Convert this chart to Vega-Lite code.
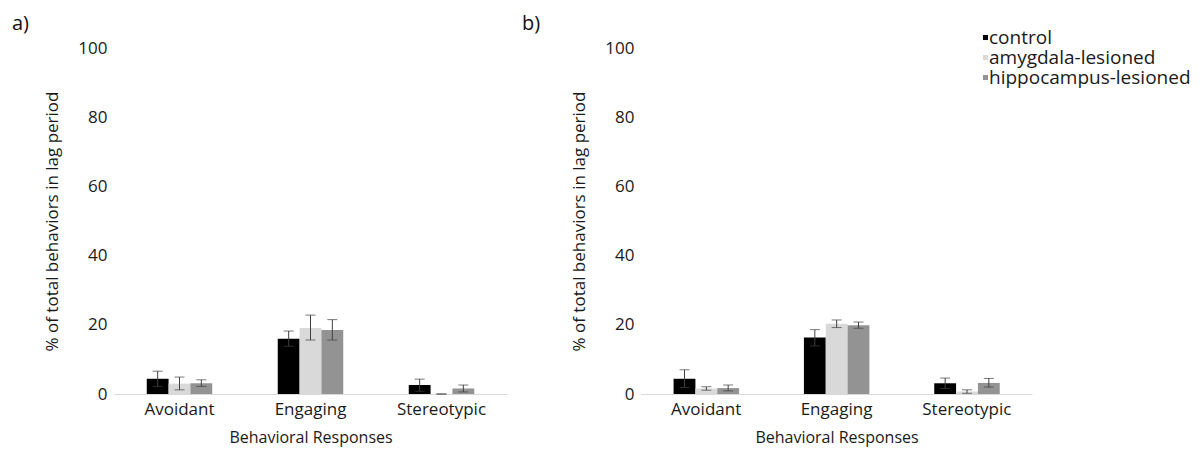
{
  "$schema": "https://vega.github.io/schema/vega-lite/v6.json",
  "background": "white",
  "padding": {"left": 12, "top": 14, "right": 0, "bottom": 10},
  "config": {
    "view": {"stroke": null},
    "font": "Open Sans",
    "concat": {"spacing": 15}
  },
  "datasets": {
    "stats": [
      {"panel": "a", "behavior": "Avoidant", "group": "control", "mean": 4.4, "lo": 2.2, "hi": 6.6},
      {"panel": "a", "behavior": "Avoidant", "group": "amygdala-lesioned", "mean": 3.0, "lo": 1.2, "hi": 4.9},
      {"panel": "a", "behavior": "Avoidant", "group": "hippocampus-lesioned", "mean": 3.1, "lo": 2.2, "hi": 4.1},
      {"panel": "a", "behavior": "Engaging", "group": "control", "mean": 16.0, "lo": 13.8, "hi": 18.2},
      {"panel": "a", "behavior": "Engaging", "group": "amygdala-lesioned", "mean": 19.1, "lo": 15.6, "hi": 22.8},
      {"panel": "a", "behavior": "Engaging", "group": "hippocampus-lesioned", "mean": 18.5, "lo": 15.6, "hi": 21.5},
      {"panel": "a", "behavior": "Stereotypic", "group": "control", "mean": 2.6, "lo": 0.8, "hi": 4.3},
      {"panel": "a", "behavior": "Stereotypic", "group": "amygdala-lesioned", "mean": 0.0, "lo": 0.0, "hi": 0.0},
      {"panel": "a", "behavior": "Stereotypic", "group": "hippocampus-lesioned", "mean": 1.6, "lo": 0.6, "hi": 2.6},
      {"panel": "b", "behavior": "Avoidant", "group": "control", "mean": 4.4, "lo": 1.9, "hi": 7.0},
      {"panel": "b", "behavior": "Avoidant", "group": "amygdala-lesioned", "mean": 1.6, "lo": 1.1, "hi": 2.1},
      {"panel": "b", "behavior": "Avoidant", "group": "hippocampus-lesioned", "mean": 1.7, "lo": 0.9, "hi": 2.6},
      {"panel": "b", "behavior": "Engaging", "group": "control", "mean": 16.3, "lo": 13.9, "hi": 18.6},
      {"panel": "b", "behavior": "Engaging", "group": "amygdala-lesioned", "mean": 20.3, "lo": 19.2, "hi": 21.4},
      {"panel": "b", "behavior": "Engaging", "group": "hippocampus-lesioned", "mean": 19.9, "lo": 19.0, "hi": 20.8},
      {"panel": "b", "behavior": "Stereotypic", "group": "control", "mean": 3.1, "lo": 1.6, "hi": 4.6},
      {"panel": "b", "behavior": "Stereotypic", "group": "amygdala-lesioned", "mean": 0.7, "lo": 0.2, "hi": 1.2},
      {"panel": "b", "behavior": "Stereotypic", "group": "hippocampus-lesioned", "mean": 3.2, "lo": 2.0, "hi": 4.5}
    ]
  },
  "resolve": {"scale": {"color": "shared"}, "legend": {"color": "shared"}},
  "hconcat": [
    {
      "title": {"text": "a)", "anchor": "start", "frame": "group", "dx": -102, "offset": 5, "fontSize": 20, "fontWeight": "normal", "color": "#111111"},
      "width": 393,
      "height": 346,
      "data": {"name": "stats"},
      "transform": [{"filter": "datum.panel == 'a'"}],
      "encoding": {
        "x": {
          "field": "behavior", "type": "nominal",
          "sort": ["Avoidant", "Engaging", "Stereotypic"],
          "scale": {"paddingInner": 0.5, "paddingOuter": 0.25},
          "title": "Behavioral Responses",
          "axis": {"labelAngle": 0, "ticks": false, "domainColor": "#d9d9d9", "labelFontSize": 17, "labelColor": "#1a1a1a", "labelPadding": 7, "titleFontSize": 16, "titleFontWeight": "normal", "titleColor": "#1a1a1a", "titlePadding": 12}
        },
        "xOffset": {"field": "group", "type": "nominal", "sort": ["control", "amygdala-lesioned", "hippocampus-lesioned"], "scale": {"paddingInner": 0, "paddingOuter": 0}}
      },
      "layer": [
        {
          "mark": {"type": "bar"},
          "encoding": {
            "y": {"field": "mean", "type": "quantitative", "scale": {"domain": [0, 100]},
              "title": "% of total behaviors in lag period",
              "axis": {"values": [0, 20, 40, 60, 80, 100], "domain": false, "ticks": false, "grid": false, "labelFontSize": 17, "labelColor": "#1a1a1a", "labelPadding": 7, "titleFontSize": 17, "titleFontWeight": "normal", "titleColor": "#1a1a1a", "titlePadding": 16}},
            "color": {"field": "group", "type": "nominal", "sort": ["control", "amygdala-lesioned", "hippocampus-lesioned"],
              "scale": {"domain": ["control", "amygdala-lesioned", "hippocampus-lesioned"], "range": ["#000000", "#d9d9d9", "#939393"]},
              "legend": {"orient": "none", "legendX": 862, "legendY": -20, "title": null, "symbolType": "square", "symbolSize": 25, "symbolStrokeWidth": 0, "labelFontSize": 19, "labelLimit": 400, "labelColor": "#1a1a1a", "labelOffset": -6, "rowPadding": 0}}
          }
        },
        {
          "mark": {"type": "rule", "color": "#404040", "strokeWidth": 1},
          "encoding": {"y": {"field": "lo", "type": "quantitative"}, "y2": {"field": "hi"}}
        },
        {
          "mark": {"type": "tick", "orient": "horizontal", "size": 10, "thickness": 1, "color": "#404040"},
          "encoding": {"y": {"field": "lo", "type": "quantitative"}}
        },
        {
          "mark": {"type": "tick", "orient": "horizontal", "size": 10, "thickness": 1, "color": "#404040"},
          "encoding": {"y": {"field": "hi", "type": "quantitative"}}
        }
      ]
    },
    {
      "title": {"text": "b)", "anchor": "start", "frame": "group", "dx": -119, "offset": 5, "fontSize": 20, "fontWeight": "normal", "color": "#111111"},
      "width": 391,
      "height": 346,
      "data": {"name": "stats"},
      "transform": [{"filter": "datum.panel == 'b'"}],
      "encoding": {
        "x": {
          "field": "behavior", "type": "nominal",
          "sort": ["Avoidant", "Engaging", "Stereotypic"],
          "scale": {"paddingInner": 0.5, "paddingOuter": 0.25},
          "title": "Behavioral Responses",
          "axis": {"labelAngle": 0, "ticks": false, "domainColor": "#d9d9d9", "labelFontSize": 17, "labelColor": "#1a1a1a", "labelPadding": 7, "titleFontSize": 16, "titleFontWeight": "normal", "titleColor": "#1a1a1a", "titlePadding": 12}
        },
        "xOffset": {"field": "group", "type": "nominal", "sort": ["control", "amygdala-lesioned", "hippocampus-lesioned"], "scale": {"paddingInner": 0, "paddingOuter": 0}}
      },
      "layer": [
        {
          "mark": {"type": "bar"},
          "encoding": {
            "y": {"field": "mean", "type": "quantitative", "scale": {"domain": [0, 100]},
              "title": "% of total behaviors in lag period",
              "axis": {"values": [0, 20, 40, 60, 80, 100], "domain": false, "ticks": false, "grid": false, "labelFontSize": 17, "labelColor": "#1a1a1a", "labelPadding": 7, "titleFontSize": 17, "titleFontWeight": "normal", "titleColor": "#1a1a1a", "titlePadding": 16}},
            "color": {"field": "group", "type": "nominal", "sort": ["control", "amygdala-lesioned", "hippocampus-lesioned"]}
          }
        },
        {
          "mark": {"type": "rule", "color": "#404040", "strokeWidth": 1},
          "encoding": {"y": {"field": "lo", "type": "quantitative"}, "y2": {"field": "hi"}}
        },
        {
          "mark": {"type": "tick", "orient": "horizontal", "size": 10, "thickness": 1, "color": "#404040"},
          "encoding": {"y": {"field": "lo", "type": "quantitative"}}
        },
        {
          "mark": {"type": "tick", "orient": "horizontal", "size": 10, "thickness": 1, "color": "#404040"},
          "encoding": {"y": {"field": "hi", "type": "quantitative"}}
        }
      ]
    }
  ]
}
